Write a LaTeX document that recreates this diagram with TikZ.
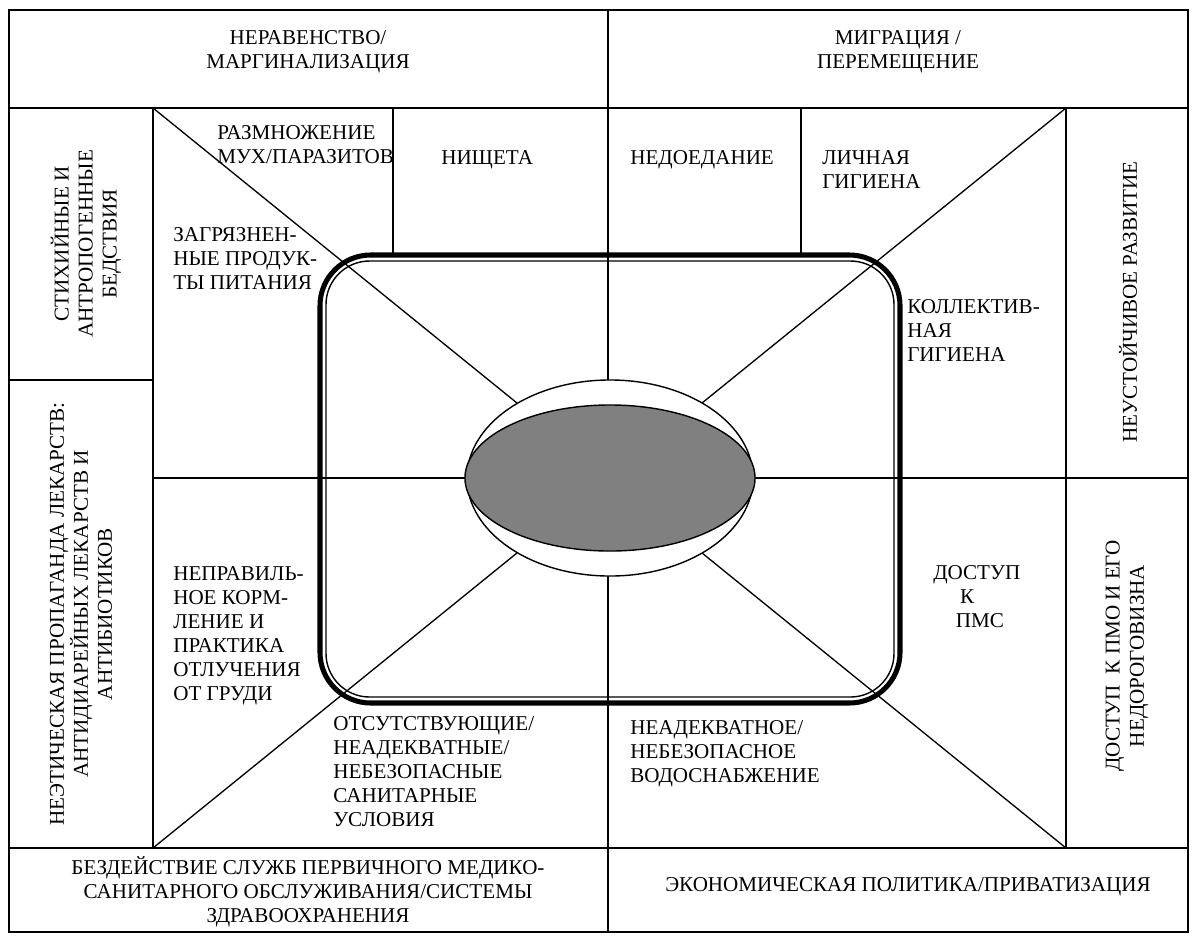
\documentclass[tikz,border=0pt]{standalone}
\usepackage{fontspec}
\setmainfont{Liberation Serif}
\usetikzlibrary{
  backgrounds,
  positioning,
  shapes.geometric
}
\definecolor{MapInk}{HTML}{000000}
\definecolor{MapCore}{HTML}{808080}
\tikzset{
  every picture/.style = {line join=miter},
  every node/.style = {font=\fontsize{15}{17.1}\selectfont, text=MapInk},
  frame line/.style = {draw=MapInk, line width=1.4pt},
  grid line/.style = {draw=MapInk, line width=0.95pt},
  ring outer/.style = {draw=MapInk, line width=3.6pt, rounded corners=36pt},
  ring inner/.style = {draw=MapInk, line width=1.0pt, rounded corners=31pt},
  core ring/.style = {
    ellipse,
    draw=MapInk,
    fill=white,
    line width=1.0pt,
    inner sep=0pt,
    minimum width=7.15cm,
    minimum height=4.9cm
  },
  core fill/.style = {core ring, fill=MapCore, minimum width=7.25cm, minimum height=3.65cm},
  cause/.style = {align=left, inner sep=0pt, anchor=north west},
  band label/.style = {align=center, inner sep=0pt, anchor=north},
  side label/.style = {align=center, inner sep=0pt, rotate=90},
}

\begin{document}
\begin{tikzpicture}[x=0.025cm,y=-0.025cm]
  \useasboundingbox (0,0) rectangle (1196,942);

  \coordinate (tl) at (153,108);
  \coordinate (tr) at (1066,108);
  \coordinate (bl) at (153,848);
  \coordinate (br) at (1066,848);
  \coordinate (ml) at (153,478);
  \coordinate (mr) at (1066,478);
  \coordinate (mt) at (608,108);
  \coordinate (mb) at (608,848);

  \draw[grid line] (tl) -- (br);
  \draw[grid line] (tr) -- (bl);
  \draw[grid line] (ml) -- (mr);
  \draw[grid line] (mt) -- (mb);
  \draw[grid line] (393,108) -- (393,255);
  \draw[grid line] (801,108) -- (801,255);

  \draw[frame line] (9,10) rectangle (1188,932);
  \draw[frame line] (9,108) -- (1188,108);
  \draw[frame line] (9,848) -- (1188,848);
  \draw[frame line] (608,10) -- (608,108);
  \draw[frame line] (608,848) -- (608,932);
  \draw[frame line] (153,108) -- (153,848);
  \draw[frame line] (1066,108) -- (1066,848);
  \draw[frame line] (9,380) -- (153,380);
  \draw[frame line] (1066,478) -- (1188,478);

  \draw[ring outer] (320,255) rectangle (900,703);
  \draw[ring inner] (326,261) rectangle (894,697);

  \node[core ring] (ring) at (610,478) {};
  \node[core fill] (core) at (610,478) {};

  \node[band label] (inequity) at (308,30) {НЕРАВЕНСТВО/\\МАРГИНАЛИЗАЦИЯ};
  \node[band label] (migration) at (898,30) {МИГРАЦИЯ /\\ПЕРЕМЕЩЕНИЕ};
  \node[band label] (phcfail) at (308,856) {БЕЗДЕЙСТВИЕ СЛУЖБ ПЕРВИЧНОГО МЕДИКО-\\САНИТАРНОГО ОБСЛУЖИВАНИЯ/СИСТЕМЫ\\ЗДРАВООХРАНЕНИЯ};
  \node[band label, anchor=center] (economy) at (908,887) {ЭКОНОМИЧЕСКАЯ ПОЛИТИКА/ПРИВАТИЗАЦИЯ};

  \node[side label] (disasters) at (86,244) {СТИХИЙНЫЕ И\\АНТРОПОГЕННЫЕ\\БЕДСТВИЯ};
  \node[side label] (drugs) at (81,614) {НЕЭТИЧЕСКАЯ ПРОПАГАНДА ЛЕКАРСТВ:\\АНТИДИАРЕЙНЫХ ЛЕКАРСТВ И\\АНТИБИОТИКОВ};
  \node[side label] (unsust) at (1128,302) {НЕУСТОЙЧИВОЕ РАЗВИТИЕ};
  \node[side label] (phcaccess) at (1127,656) {ДОСТУП \ К ПМО И ЕГО\\НЕДОРОГОВИЗНА};

  \node[cause] (flies) at (217,125) {РАЗМНОЖЕНИЕ\\МУХ/ПАРАЗИТОВ};
  \node[cause] (poverty) at (441,150) {НИЩЕТА};
  \node[cause] (food) at (173,227) {ЗАГРЯЗНЕН-\\НЫЕ ПРОДУК-\\ТЫ ПИТАНИЯ};
  \node[cause] (undernut) at (630,150) {НЕДОЕДАНИЕ};
  \node[cause] (personal) at (822,150) {ЛИЧНАЯ\\ГИГИЕНА};
  \node[cause] (collective) at (907,299) {КОЛЛЕКТИВ-\\НАЯ\\ГИГИЕНА};
  \node[cause] (feeding) at (173,566) {НЕПРАВИЛЬ-\\НОЕ КОРМ-\\ЛЕНИЕ И\\ПРАКТИКА\\ОТЛУЧЕНИЯ\\ОТ ГРУДИ};
  \node[cause] (sanitation) at (333,716) {ОТСУТСТВУЮЩИЕ/\\НЕАДЕКВАТНЫЕ/\\НЕБЕЗОПАСНЫЕ\\САНИТАРНЫЕ\\УСЛОВИЯ};
  \node[cause] (water) at (630,720) {НЕАДЕКВАТНОЕ/\\НЕБЕЗОПАСНОЕ\\ВОДОСНАБЖЕНИЕ};
  \node[cause] (pmsaccess) at (933,565) {ДОСТУП\\\hspace*{19pt}К\\\hspace*{16pt}ПМС};
\end{tikzpicture}
\end{document}
